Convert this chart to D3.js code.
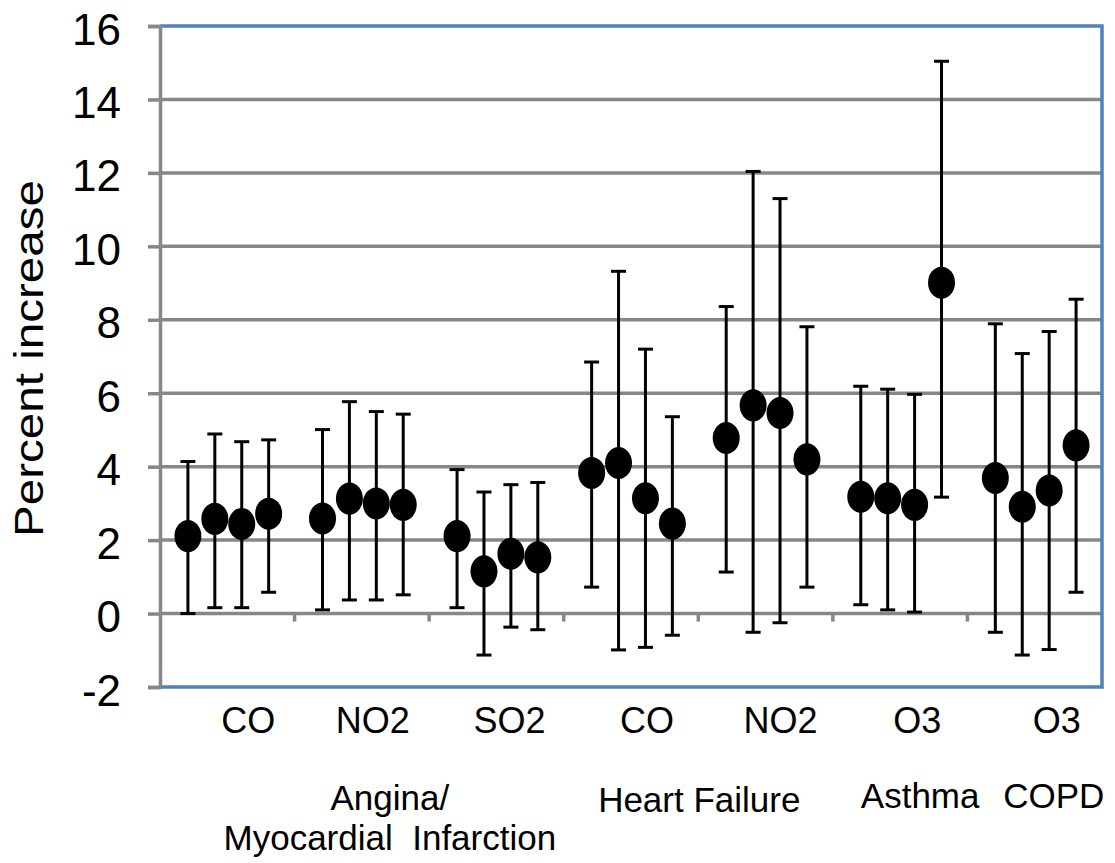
<!DOCTYPE html>
<html>
<head>
<meta charset="utf-8">
<script src="https://cdn.jsdelivr.net/npm/d3@7"></script>
<style>
  html, body { margin: 0; padding: 0; background: #ffffff; }
  svg { display: block; font-family: "Liberation Sans", Arial, Helvetica, sans-serif; }
</style>
</head>
<body>
<svg id="chart" width="1115" height="863"></svg>
<script>
// ---- Data ----
const pollutants = ["CO", "NO2", "SO2", "CO", "NO2", "O3", "O3"];
const outcomeGroups = [
  { lines: ["Angina/", "Myocardial  Infarction"], from: 0, to: 2 },
  { lines: ["Heart Failure"], from: 3, to: 4 },
  { lines: ["Asthma"], from: 5, to: 5 },
  { lines: ["COPD"], from: 6, to: 6 }
];
const yTicks = [-2, 0, 2, 4, 6, 8, 10, 12, 14, 16];
// point estimates (4 per pollutant category)
const estimate = [
  [2.11, 2.58, 2.44, 2.72],
  [2.59, 3.13, 3.00, 2.96],
  [2.11, 1.15, 1.63, 1.53],
  [3.83, 4.10, 3.14, 2.45],
  [4.78, 5.67, 5.46, 4.20],
  [3.18, 3.14, 2.96, 9.01],
  [3.69, 2.91, 3.35, 4.58]
];
const lowerCI = [
  [0.00, 0.16, 0.16, 0.58],
  [0.10, 0.37, 0.37, 0.51],
  [0.16, -1.13, -0.37, -0.44],
  [0.72, -0.99, -0.92, -0.59],
  [1.13, -0.51, -0.25, 0.72],
  [0.24, 0.10, 0.04, 3.17],
  [-0.51, -1.13, -0.98, 0.58]
];
const upperCI = [
  [4.14, 4.89, 4.68, 4.73],
  [5.01, 5.77, 5.50, 5.43],
  [3.92, 3.31, 3.51, 3.57],
  [6.85, 9.32, 7.20, 5.36],
  [8.36, 12.04, 11.30, 7.81],
  [6.19, 6.11, 5.97, 15.04],
  [7.89, 7.08, 7.68, 8.56]
];

// ---- Layout (not data) ----
const plot = { left: 160, right: 1102, top: 26, bottom: 687 };
const pollutantLabelNudge = [21, 11, 13, 16, 15, 17, 22];
const groupLabelNudge = [28, 1, 20, 19];
const groupBaselines = [810, 812, 808, 808];

const svg = d3.select("#chart");
const catIdx = d3.range(pollutants.length);

const x = d3.scaleBand().domain(catIdx).range([plot.left, plot.right]).padding(0);
const bw = x.bandwidth();
const xInner = d3.scalePoint().domain([0, 1, 2, 3]).range([bw / 5 + 1, 4 * bw / 5 + 1]);
const y = d3.scaleLinear().domain([-2, 16]).range([plot.bottom, plot.top]);

const gridColor = "#878787";
const frameColor = "#4f81bd";

// gridlines
svg.append("g").selectAll("line")
  .data(yTicks.filter(t => t > -2 && t < 16))
  .join("line")
  .attr("x1", plot.left).attr("x2", plot.right)
  .attr("y1", d => y(d)).attr("y2", d => y(d))
  .attr("stroke", gridColor).attr("stroke-width", 3.5);

// frame (top, right, bottom) in blue
svg.append("path")
  .attr("d", `M${plot.left},${y(16)}H${plot.right}V${y(-2)}H${plot.left}`)
  .attr("fill", "none").attr("stroke", frameColor).attr("stroke-width", 3.5);

// y axis
const yAxis = d3.axisLeft(y).tickValues(yTicks).tickSize(12).tickPadding(0).tickFormat(d => String(d));
const yg = svg.append("g").attr("transform", `translate(${plot.left},0)`).call(yAxis);
yg.select(".domain").attr("stroke", gridColor).attr("stroke-width", 3.5);
yg.selectAll(".tick line").attr("stroke", gridColor).attr("stroke-width", 3.5);
yg.selectAll(".tick text")
  .attr("x", 121 - plot.left).attr("dy", null).attr("y", 18)
  .attr("font-size", 44).attr("fill", "#000")
  .attr("font-family", "Liberation Sans, Arial, sans-serif")
  .attr("text-anchor", "end");

// x axis ticks at y=0 (category boundaries)
const boundaries = catIdx.map(i => x(i)).concat([plot.right]);
svg.append("g").selectAll("line")
  .data(boundaries.slice(1, -1))
  .join("line")
  .attr("x1", d => d).attr("x2", d => d)
  .attr("y1", y(0)).attr("y2", y(0) + 8)
  .attr("stroke", gridColor).attr("stroke-width", 3.5);

// y axis title
svg.append("text")
  .attr("transform", `translate(43,${(plot.top + plot.bottom) / 2 + 2}) rotate(-90)`)
  .attr("text-anchor", "middle")
  .attr("font-size", 40)
  .attr("textLength", 357).attr("lengthAdjust", "spacingAndGlyphs")
  .text("Percent increase");

// points data
const pts = [];
catIdx.forEach(c => {
  estimate[c].forEach((v, j) => {
    pts.push({ cx: x(c) + xInner(j), est: v, lo: lowerCI[c][j], hi: upperCI[c][j] });
  });
});

const capHalf = 7.5;
const eb = svg.append("g").attr("stroke", "#000").attr("stroke-width", 3);
eb.selectAll("line.v").data(pts).join("line").attr("class", "v")
  .attr("x1", d => d.cx).attr("x2", d => d.cx)
  .attr("y1", d => y(d.hi)).attr("y2", d => y(d.lo));
eb.selectAll("line.t").data(pts).join("line").attr("class", "t")
  .attr("x1", d => d.cx - capHalf).attr("x2", d => d.cx + capHalf)
  .attr("y1", d => y(d.hi)).attr("y2", d => y(d.hi));
eb.selectAll("line.b").data(pts).join("line").attr("class", "b")
  .attr("x1", d => d.cx - capHalf).attr("x2", d => d.cx + capHalf)
  .attr("y1", d => y(d.lo)).attr("y2", d => y(d.lo));

svg.append("g").selectAll("ellipse").data(pts).join("ellipse")
  .attr("cx", d => d.cx).attr("cy", d => y(d.est))
  .attr("rx", 13.5).attr("ry", 16).attr("fill", "#000");

// pollutant labels
svg.append("g").selectAll("text").data(catIdx).join("text")
  .attr("x", c => x(c) + bw / 2 + pollutantLabelNudge[c])
  .attr("y", 733)
  .attr("text-anchor", "middle")
  .attr("font-size", 36)
  .text(c => pollutants[c]);

// outcome group labels
outcomeGroups.forEach((g, i) => {
  const cx = (x(g.from) + x(g.to) + bw) / 2 + groupLabelNudge[i];
  const t = svg.append("text")
    .attr("x", cx).attr("y", groupBaselines[i])
    .attr("text-anchor", "middle")
    .attr("font-size", 35)
    .style("white-space", "pre");
  g.lines.forEach((ln, k) => {
    t.append("tspan").attr("x", cx).attr("dy", k === 0 ? 0 : 40).text(ln);
  });
});
</script>
</body>
</html>
